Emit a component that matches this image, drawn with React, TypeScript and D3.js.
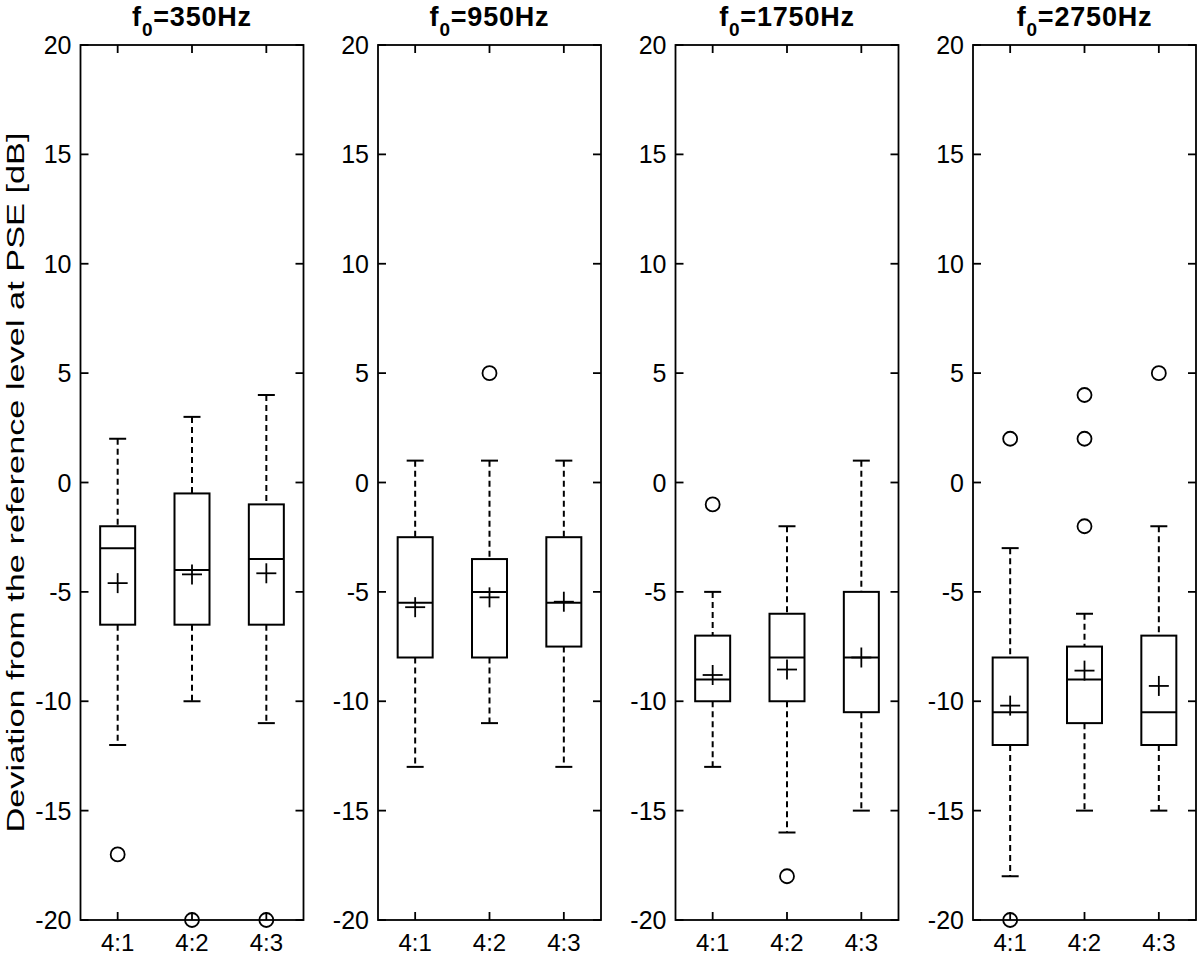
import * as d3 from 'd3';

// one entry per panel, three ratios per panel
const panelFreqs = ['350', '950', '1750', '2750'];
const ratios = ['4:1', '4:2', '4:3'];

const whiskerHigh = [
  [2, 3, 4],
  [1, 1, 1],
  [-5, -2, 1],
  [-3, -6, -2],
];
const upperQuartile = [
  [-2, -0.5, -1],
  [-2.5, -3.5, -2.5],
  [-7, -6, -5],
  [-8, -7.5, -7],
];
const medians = [
  [-3, -4, -3.5],
  [-5.5, -5, -5.5],
  [-9, -8, -8],
  [-10.5, -9, -10.5],
];
const lowerQuartile = [
  [-6.5, -6.5, -6.5],
  [-8, -8, -7.5],
  [-10, -10, -10.5],
  [-12, -11, -12],
];
const whiskerLow = [
  [-12, -10, -11],
  [-13, -11, -13],
  [-13, -16, -15],
  [-18, -15, -15],
];
const means = [
  [-4.6, -4.2, -4.15],
  [-5.7, -5.25, -5.45],
  [-8.8, -8.55, -8.0],
  [-10.2, -8.6, -9.3],
];
const outliers = [
  [[-17], [-20], [-20]],
  [[], [5], []],
  [[-1], [-18], []],
  [[2, -20], [4, 2, -2], [5]],
];

const yTicks = [-20, -15, -10, -5, 0, 5, 10, 15, 20];

const WIDTH = 1200;
const HEIGHT = 958;
const FONT = '"Liberation Sans", Arial, Helvetica, sans-serif';

const plotTop = 45;
const plotBottom = 920;
const panelWidth = 223;
const boxWidth = 35;
const capWidth = 17;
const markSize = 20;
const tickLen = 8;

export default function App() {
  const y = d3.scaleLinear().domain([-20, 20]).range([plotBottom, plotTop]);
  const panelX = d3
    .scaleLinear()
    .domain([0, panelFreqs.length - 1])
    .range([80.5, 973]);

  return (
    <svg
      width={WIDTH}
      height={HEIGHT}
      style={{ position: 'absolute', left: 0, top: 0, background: '#fff' }}
      fontFamily={FONT}
    >
      <rect width={WIDTH} height={HEIGHT} fill="#fff" />
      <text
        transform={`translate(24,${(plotTop + plotBottom) / 2}) rotate(-90)`}
        textAnchor="middle"
        fontSize={23}
        textLength={700}
        lengthAdjust="spacingAndGlyphs"
      >
        Deviation from the reference level at PSE [dB]
      </text>
      {panelFreqs.map((freq, p) => {
        const left = panelX(p);
        const x = d3
          .scaleLinear()
          .domain([0.5, ratios.length + 0.5])
          .range([left, left + panelWidth]);
        return (
          <g key={freq}>
            <text
              x={left + panelWidth / 2}
              y={26}
              textAnchor="middle"
              fontSize={27}
              fontWeight="bold"
              letterSpacing={0.8}
            >
              f<tspan fontSize={19} dy={10}>0</tspan>
              <tspan dy={-10}>={freq}Hz</tspan>
            </text>

            {ratios.map((r, i) => {
              const cx = x(i + 1);
              const hi = y(whiskerHigh[p][i]);
              const q3 = y(upperQuartile[p][i]);
              const med = y(medians[p][i]);
              const q1 = y(lowerQuartile[p][i]);
              const lo = y(whiskerLow[p][i]);
              const mn = y(means[p][i]);
              return (
                <g key={r} stroke="#000" fill="none" strokeWidth={2}>
                  <line x1={cx} x2={cx} y1={hi} y2={q3} strokeDasharray="6 4" />
                  <line x1={cx} x2={cx} y1={q1} y2={lo} strokeDasharray="6 4" />
                  <line x1={cx - capWidth / 2} x2={cx + capWidth / 2} y1={hi} y2={hi} />
                  <line x1={cx - capWidth / 2} x2={cx + capWidth / 2} y1={lo} y2={lo} />
                  <rect x={cx - boxWidth / 2} y={q3} width={boxWidth} height={q1 - q3} />
                  <line x1={cx - boxWidth / 2} x2={cx + boxWidth / 2} y1={med} y2={med} />
                  <line x1={cx - markSize / 2} x2={cx + markSize / 2} y1={mn} y2={mn} strokeWidth={1.8} />
                  <line x1={cx} x2={cx} y1={mn - markSize / 2} y2={mn + markSize / 2} strokeWidth={1.8} />
                  {outliers[p][i].map((v, k) => (
                    <circle key={k} cx={cx} cy={y(v)} r={7} strokeWidth={1.8} />
                  ))}
                </g>
              );
            })}

            <rect
              x={left}
              y={plotTop}
              width={panelWidth}
              height={plotBottom - plotTop}
              fill="none"
              stroke="#000"
              strokeWidth={1.8}
            />
            {yTicks.map((t) => (
              <g key={t} stroke="#000" strokeWidth={1.8}>
                <line x1={left} x2={left + tickLen} y1={y(t)} y2={y(t)} />
                <line x1={left + panelWidth - tickLen} x2={left + panelWidth} y1={y(t)} y2={y(t)} />
              </g>
            ))}
            {ratios.map((r, i) => (
              <g key={r} stroke="#000" strokeWidth={1.8}>
                <line x1={x(i + 1)} x2={x(i + 1)} y1={plotTop} y2={plotTop + tickLen} />
                <line x1={x(i + 1)} x2={x(i + 1)} y1={plotBottom} y2={plotBottom - tickLen} />
              </g>
            ))}
            {yTicks.map((t) => (
              <text key={t} x={left - 9} y={y(t) + 9} textAnchor="end" fontSize={25}>
                {t}
              </text>
            ))}
            {ratios.map((r, i) => (
              <text key={r} x={x(i + 1)} y={951} textAnchor="middle" fontSize={24}>
                {r}
              </text>
            ))}
          </g>
        );
      })}
    </svg>
  );
}
